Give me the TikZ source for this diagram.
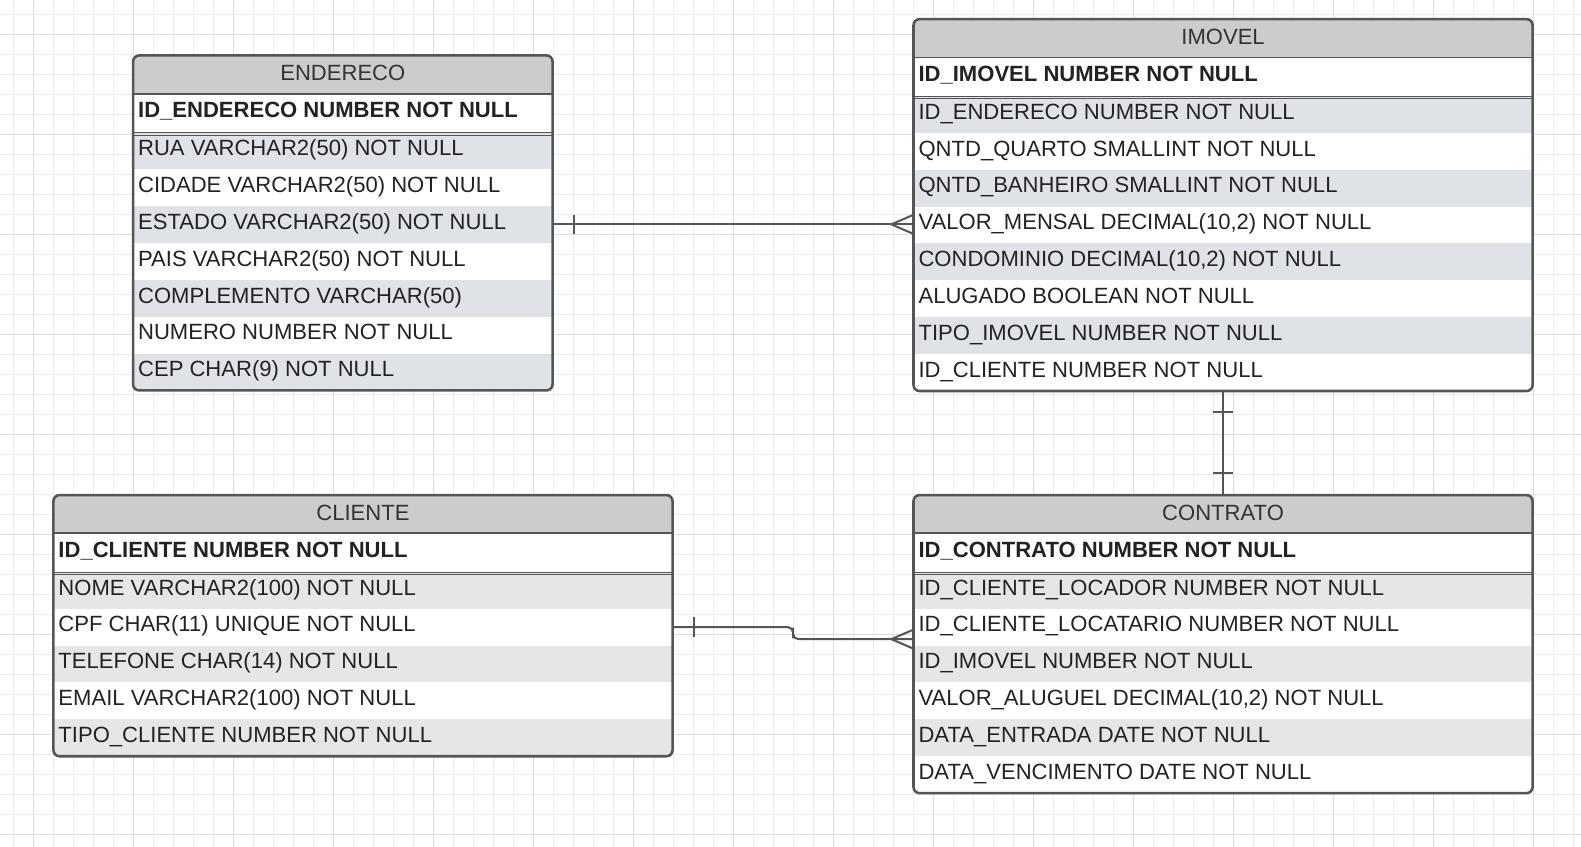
\documentclass[tikz,border=0pt]{standalone}
\usepackage{fontspec}
\setmainfont{Liberation Sans}
\usetikzlibrary{calc}
\definecolor{bord}{HTML}{555555}
\definecolor{headfill}{HTML}{CCCCCC}
\definecolor{bluegrey}{HTML}{DFE2E7}
\definecolor{lightgrey}{HTML}{E6E6E6}
\definecolor{txt}{HTML}{222222}
\definecolor{headtxtc}{HTML}{333333}
\definecolor{gridA}{HTML}{EBEBEB}
\definecolor{gridB}{HTML}{DCDCDC}
\tikzset{
  rowbg/.style={draw=none, inner sep=0pt, outer sep=0pt, minimum height=27.45pt},
  headbg/.style={draw=none, fill=headfill, inner sep=0pt, outer sep=0pt, minimum height=28.5pt},
  pkbg/.style={draw=none, fill=white, inner sep=0pt, outer sep=0pt, minimum height=28.5pt},
  rowtxt/.style={anchor=west, inner sep=0pt, outer sep=0pt, text height=11.74pt, text depth=0pt,
    font=\fontsize{16.4}{19}\selectfont, text=txt},
  pktxt/.style={rowtxt, font=\fontsize{16.4}{19}\selectfont\bfseries},
  headtxt/.style={anchor=center, inner sep=0pt, outer sep=0pt, text height=11.74pt, text depth=0pt,
    font=\fontsize{16.4}{19}\selectfont, text=headtxtc},
  sepline/.style={draw=bord, line width=1.4pt},
  dblline/.style={draw=bord, line width=0.8pt},
  tblborder/.style={draw=bord, line width=1.9pt, rounded corners=4.5pt, fill=none, inner sep=0pt, outer sep=0pt},
  conn/.style={draw=bord, line width=1.5pt},
}
% #1 name, #2 L, #3 T, #4 W, #5 title, #6 pk text
\newcommand\tabtop[6]{%
  \node[headbg, minimum width={#4*0.75pt}, anchor=north west] (#1-head) at (#2,#3) {};
  \node[headtxt] (#1-title) at (#2+#4/2, #3+17) {#5};
  \node[pkbg, minimum width={#4*0.75pt}, anchor=north west] (#1-pk) at (#2,#3+38) {};
  \node[pktxt] (#1-pkt) at (#2+5, #3+54) {#6};
}
% #1 name, #2 L, #3 T, #4 W, #5 k, #6 fill, #7 text
\newcommand\tabrow[7]{%
  \node[rowbg, fill=#6, minimum width={#4*0.75pt}, anchor=north west] (#1) at (#2, #3+76+36.6*#5) {};
  \node[rowtxt] (#1-t) at (#2+5, #3+76+36.6*#5+15.3) {#7};
}
% #1 name, #2 L, #3 T, #4 W, #5 H
\newcommand\tabframe[5]{%
  \draw[sepline] (#2,#3+38) -- ++(#4,0);
  \draw[dblline] (#2,#3+76.4) -- ++(#4,0) (#2,#3+79) -- ++(#4,0);
  \node[tblborder, minimum width={#4*0.75pt}, minimum height={#5*0.75pt}, anchor=north west] (#1) at (#2,#3) {};
}
\begin{document}
\begin{tikzpicture}[x=0.75pt, y=-0.75pt]
\useasboundingbox (0,0) rectangle (1568,840);
\fill[white] (0,0) rectangle (1568,840);
% grid
\begin{scope}[scale=0.99178]
  \foreach \gx in {13.3,33.3,...,1580} \draw[gridA, line width=0.75pt] (\gx,0) -- (\gx,847);
  \foreach \gy in {14,34,...,846} \draw[gridA, line width=0.75pt] (0,\gy) -- (1581,\gy);
  \foreach \gx in {33.3,133.3,...,1580} \draw[gridB, line width=0.75pt] (\gx,0) -- (\gx,847);
  \foreach \gy in {34,134,...,846} \draw[gridB, line width=0.75pt] (0,\gy) -- (1581,\gy);
\end{scope}

% ENDERECO
\begin{scope}
\clip[rounded corners=4.5pt] (132,55) rectangle (548,387.2);
\tabtop{end}{132}{55}{416}{ENDERECO}{ID\_ENDERECO NUMBER NOT NULL}
\tabrow{end-r0}{132}{55}{416}{0}{bluegrey}{RUA VARCHAR2(50) NOT NULL}
\tabrow{end-r1}{132}{55}{416}{1}{white}{CIDADE VARCHAR2(50) NOT NULL}
\tabrow{end-r2}{132}{55}{416}{2}{bluegrey}{ESTADO VARCHAR2(50) NOT NULL}
\tabrow{end-r3}{132}{55}{416}{3}{white}{PAIS VARCHAR2(50) NOT NULL}
\tabrow{end-r4}{132}{55}{416}{4}{bluegrey}{COMPLEMENTO VARCHAR(50)}
\tabrow{end-r5}{132}{55}{416}{5}{white}{NUMERO NUMBER NOT NULL}
\tabrow{end-r6}{132}{55}{416}{6}{bluegrey}{CEP CHAR(9) NOT NULL}
\end{scope}
\tabframe{endereco}{132}{55}{416}{332.2}

% IMOVEL
\begin{scope}
\clip[rounded corners=4.5pt] (906,19) rectangle (1520,387.8);
\tabtop{imo}{906}{19}{614}{IMOVEL}{ID\_IMOVEL NUMBER NOT NULL}
\tabrow{imo-r0}{906}{19}{614}{0}{bluegrey}{ID\_ENDERECO NUMBER NOT NULL}
\tabrow{imo-r1}{906}{19}{614}{1}{white}{QNTD\_QUARTO SMALLINT NOT NULL}
\tabrow{imo-r2}{906}{19}{614}{2}{bluegrey}{QNTD\_BANHEIRO SMALLINT NOT NULL}
\tabrow{imo-r3}{906}{19}{614}{3}{white}{VALOR\_MENSAL DECIMAL(10,2) NOT NULL}
\tabrow{imo-r4}{906}{19}{614}{4}{bluegrey}{CONDOMINIO DECIMAL(10,2) NOT NULL}
\tabrow{imo-r5}{906}{19}{614}{5}{white}{ALUGADO BOOLEAN NOT NULL}
\tabrow{imo-r6}{906}{19}{614}{6}{bluegrey}{TIPO\_IMOVEL NUMBER NOT NULL}
\tabrow{imo-r7}{906}{19}{614}{7}{white}{ID\_CLIENTE NUMBER NOT NULL}
\end{scope}
\tabframe{imovel}{906}{19}{614}{368.8}

% CLIENTE
\begin{scope}
\clip[rounded corners=4.5pt] (53,491) rectangle (667,750);
\tabtop{cli}{53}{491}{614}{CLIENTE}{ID\_CLIENTE NUMBER NOT NULL}
\tabrow{cli-r0}{53}{491}{614}{0}{lightgrey}{NOME VARCHAR2(100) NOT NULL}
\tabrow{cli-r1}{53}{491}{614}{1}{white}{CPF CHAR(11) UNIQUE NOT NULL}
\tabrow{cli-r2}{53}{491}{614}{2}{lightgrey}{TELEFONE CHAR(14) NOT NULL}
\tabrow{cli-r3}{53}{491}{614}{3}{white}{EMAIL VARCHAR2(100) NOT NULL}
\tabrow{cli-r4}{53}{491}{614}{4}{lightgrey}{TIPO\_CLIENTE NUMBER NOT NULL}
\end{scope}
\tabframe{cliente}{53}{491}{614}{259}

% CONTRATO
\begin{scope}
\clip[rounded corners=4.5pt] (906,491) rectangle (1520,786.6);
\tabtop{con}{906}{491}{614}{CONTRATO}{ID\_CONTRATO NUMBER NOT NULL}
\tabrow{con-r0}{906}{491}{614}{0}{lightgrey}{ID\_CLIENTE\_LOCADOR NUMBER NOT NULL}
\tabrow{con-r1}{906}{491}{614}{1}{white}{ID\_CLIENTE\_LOCATARIO NUMBER NOT NULL}
\tabrow{con-r2}{906}{491}{614}{2}{lightgrey}{ID\_IMOVEL NUMBER NOT NULL}
\tabrow{con-r3}{906}{491}{614}{3}{white}{VALOR\_ALUGUEL DECIMAL(10,2) NOT NULL}
\tabrow{con-r4}{906}{491}{614}{4}{lightgrey}{DATA\_ENTRADA DATE NOT NULL}
\tabrow{con-r5}{906}{491}{614}{5}{white}{DATA\_VENCIMENTO DATE NOT NULL}
\end{scope}
\tabframe{contrato}{906}{491}{614}{295.6}

% connector ENDERECO -- IMOVEL
\coordinate (c1e) at (end-r2.east -| imovel.west);
\draw[conn] (end-r2.east) -- (c1e);
\draw[conn] ($(end-r2.east)+(21,-9.5)$) -- ++(0,19);
\draw[conn] ($(c1e)+(0,-9.5)$) -- ($(c1e)+(-22,0)$) -- ($(c1e)+(0,9.5)$);

% connector IMOVEL -- CONTRATO
\draw[conn] (imovel.south) -- (contrato.north);
\draw[conn] ($(imovel.south)+(-10,21)$) -- ++(20,0);
\draw[conn] ($(contrato.north)+(-10,-22)$) -- ++(20,0);

% connector CLIENTE -- CONTRATO
\coordinate (c3e) at ($(con-r1.west)+(0,12)$);
\draw[conn, rounded corners=4pt] (cli-r1.east) -| ($(cli-r1.east)!0.5!(c3e)$) |- (c3e);
\draw[conn] ($(cli-r1.east)+(21,-9.5)$) -- ++(0,19);
\draw[conn] ($(c3e)+(0,-9.5)$) -- ($(c3e)+(-22,0)$) -- ($(c3e)+(0,9.5)$);
\end{tikzpicture}
\end{document}
